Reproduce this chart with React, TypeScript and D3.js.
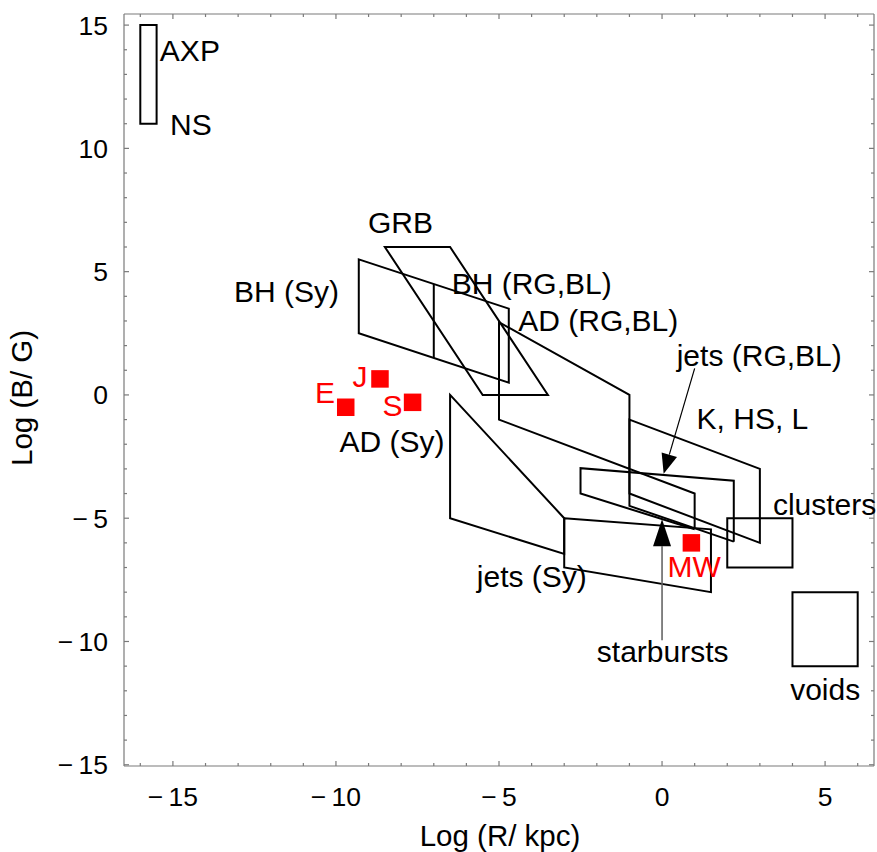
import React from 'react';
import * as d3 from 'd3';

const W = 877;
const H = 852;

// axes
const xDomain: [number, number] = [-16.5, 6.5];
const yDomain: [number, number] = [-15.05, 15.45];
const xTicks = [-15, -10, -5, 0, 5];
const yTicks = [-15, -10, -5, 0, 5, 10, 15];
const xMinor = d3.range(-16, 7, 1);
const yMinor = d3.range(-15, 16, 1);
const xTitle = 'Log (R/ kpc)';
const yTitle = 'Log (B/ G)';

// regions (log R, log B)
const axpBox = [[-16, 11], [-15.5, 11], [-15.5, 15], [-16, 15]];
const bhOutline = [[-9.3, 5.5], [-4.7, 3.5], [-4.7, 0.5], [-9.3, 2.5]];
const bhDivider = [[-7, 4.5], [-7, 1.5]];
const grbBox = [[-8.5, 6], [-6.5, 6], [-3.5, 0], [-5.5, 0]];
const adRgBl = [[2.2, -5.95], [-1, -4.5], [-1, 0], [-5, 2.95], [-5, -1], [1, -4], [1, -5.45]];
const jetsRgBl = [[1, -5.45], [-2.5, -4], [-2.5, -2.97], [2.2, -3.48], [2.2, -5.95]];
const khslBox = [[-1, -1], [3, -3], [3, -6], [-1, -4]];
const adSyBox = [[-6.5, 0], [-3, -5], [-3, -6.45], [-6.5, -5]];
const jetsSyBox = [[-3, -5], [1.5, -5.45], [1.5, -8], [-3, -7]];
const clustersBox = [[2, -5], [4, -5], [4, -7], [2, -7]];
const voidsBox = [[4, -8], [6, -8], [6, -11], [4, -11]];

const closedShapes = [axpBox, bhOutline, grbBox, khslBox, adSyBox, jetsSyBox, clustersBox, voidsBox];
const openShapes = [bhDivider, adRgBl, jetsRgBl];

// red points
const pointNames = ['E', 'J', 'S', 'MW'];
const pointX = [-9.7, -8.65, -7.65, 0.9];
const pointY = [-0.5, 0.65, -0.3, -6];

// arrows
const jetsArrow = [[1.0, 1.08], [0.05, -3.2]];
const starArrow = [[0, -9.95], [0, -5.04]];

// label texts and anchors (data coordinates)
const labelTexts = ['AXP', 'NS', 'GRB', 'BH (Sy)', 'BH (RG,BL)', 'AD (RG,BL)', 'jets (RG,BL)', 'K, HS, L', 'clusters', 'voids', 'starbursts', 'jets (Sy)', 'AD (Sy)'];
const labelX = [-15.4, -15.09, -9.02, -9.91, -6.45, -4.41, 0.45, 1.06, 3.4, 3.93, -2.0, -5.68, -9.89];
const labelY = [13.54, 10.54, 6.57, 3.77, 4.1, 2.6, 1.18, -1.39, -4.87, -12.37, -10.83, -7.77, -2.31];
const labelAnchor = ['start', 'start', 'start', 'end', 'start', 'start', 'start', 'start', 'start', 'start', 'start', 'start', 'start'];

const pointLabelX = [-10.03, -9.49, -8.57, 0.17];
const pointLabelY = [-0.32, 0.34, -0.85, -7.37];
const pointLabelAnchor = ['end', 'start', 'start', 'start'];

const FONT = "'Liberation Sans', Arial, Helvetica, sans-serif";

export default function App() {
  const x = d3.scaleLinear().domain(xDomain).range([124, 874]);
  const y = d3.scaleLinear().domain(yDomain).range([766, 14]);
  const line = d3.line<number[]>().x((d) => x(d[0])).y((d) => y(d[1]));

  const fmt = (v: number) => (v < 0 ? '\u2212\u2009' + Math.abs(v) : String(v));
  const axisColor = '#7a7a7a';
  const [x0, x1] = x.range();
  const [y0, y1] = y.range();

  const arrowHead = (a: number[][], len: number, half: number) => {
    const sx = x(a[0][0]), sy = y(a[0][1]);
    const tx = x(a[1][0]), ty = y(a[1][1]);
    const dx = tx - sx, dy = ty - sy;
    const L = Math.hypot(dx, dy);
    const ux = dx / L, uy = dy / L;
    const bx = tx - ux * len, by = ty - uy * len;
    const px = -uy, py = ux;
    return {
      head: `${tx},${ty} ${bx + px * half},${by + py * half} ${bx - px * half},${by - py * half}`,
      line: { x1: sx, y1: sy, x2: bx, y2: by },
    };
  };
  const ja = arrowHead(jetsArrow, 20, 8);
  const sa = arrowHead(starArrow, 27, 9);

  const sq = 17.5;

  return (
    <svg width={W} height={H} style={{ position: 'absolute', left: 0, top: 0, background: '#fff' }} fontFamily={FONT}>
      <rect x={0} y={0} width={W} height={H} fill="#fff" />
      {/* frame */}
      <g stroke={axisColor} strokeWidth={1.2} fill="none">
        <line x1={x0} y1={y0} x2={x1} y2={y0} />
        <line x1={x0} y1={y1} x2={x1} y2={y1} />
        <line x1={x0} y1={y0} x2={x0} y2={y1} />
        <line x1={x1} y1={y0} x2={x1} y2={y1} />
        {xMinor.map((v) => {
          const len = v % 5 === 0 ? 5 : 3;
          return (
            <g key={'xt' + v}>
              <line x1={x(v)} x2={x(v)} y1={y0} y2={y0 - len} />
              <line x1={x(v)} x2={x(v)} y1={y1} y2={y1 + len} />
            </g>
          );
        })}
        {yMinor.map((v) => {
          const len = v % 5 === 0 ? 5 : 3;
          return (
            <g key={'yt' + v}>
              <line x1={x0} x2={x0 + len} y1={y(v)} y2={y(v)} />
              <line x1={x1} x2={x1 - len} y1={y(v)} y2={y(v)} />
            </g>
          );
        })}
      </g>
      {/* tick labels */}
      <g fontSize={26.5} fill="#000">
        {xTicks.map((v) => (
          <text key={'xl' + v} x={x(v)} y={y0 + 40} textAnchor="middle">
            {fmt(v)}
          </text>
        ))}
        {yTicks.map((v) => (
          <text key={'yl' + v} x={x0 - 16} y={y(v) + 9.5} textAnchor="end">
            {fmt(v)}
          </text>
        ))}
      </g>
      {/* axis titles */}
      <text x={(x0 + x1) / 2 + 1} y={846} textAnchor="middle" fontSize={29.5} fill="#000">
        {xTitle}
      </text>
      <text transform={`translate(32,398) rotate(-90)`} textAnchor="middle" fontSize={29.5} fill="#000">
        {yTitle}
      </text>
      {/* shapes */}
      <g stroke="#000" strokeWidth={2} fill="none" strokeLinejoin="miter">
        {closedShapes.map((s, i) => (
          <path key={'c' + i} d={line(s) + 'Z'} />
        ))}
        {openShapes.map((s, i) => (
          <path key={'o' + i} d={line(s) || ''} />
        ))}
      </g>
      {/* arrows */}
      <line {...ja.line} stroke="#000" strokeWidth={1.2} />
      <polygon points={ja.head} fill="#000" />
      <line {...sa.line} stroke="#666" strokeWidth={1.6} />
      <polygon points={sa.head} fill="#000" />
      {/* points */}
      <g fill="#ff0000">
        {pointNames.map((n, i) => (
          <rect key={'p' + n} x={x(pointX[i]) - sq / 2} y={y(pointY[i]) - sq / 2} width={sq} height={sq} />
        ))}
        {pointNames.map((n, i) => (
          <text key={'pl' + n} x={x(pointLabelX[i])} y={y(pointLabelY[i])} textAnchor={pointLabelAnchor[i] as any} fontSize={30}>
            {n}
          </text>
        ))}
      </g>
      {/* labels */}
      <g fill="#000" fontSize={30}>
        {labelTexts.map((t, i) => (
          <text key={'l' + i} x={x(labelX[i])} y={y(labelY[i])} textAnchor={labelAnchor[i] as any}>
            {t}
          </text>
        ))}
      </g>
    </svg>
  );
}
